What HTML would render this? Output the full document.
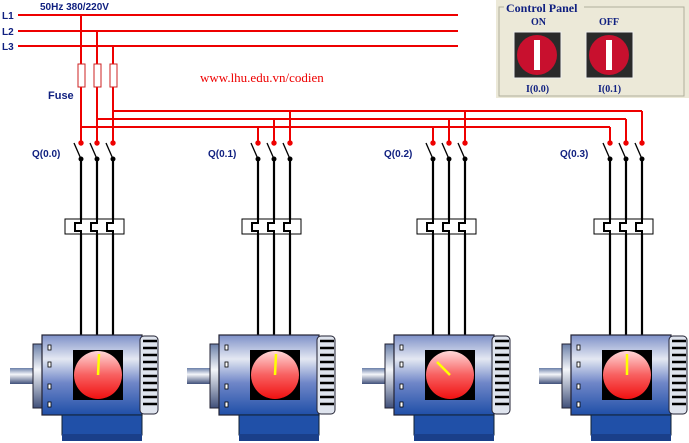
<!DOCTYPE html>
<html><head><style>body{margin:0;background:#fff}svg{display:block}</style></head><body>
<svg width="689" height="443" viewBox="0 0 689 443" xmlns="http://www.w3.org/2000/svg" font-family="Liberation Sans, sans-serif">
<defs>
<linearGradient id="body" x1="0" y1="0" x2="0" y2="1">
<stop offset="0" stop-color="#7d90c8"/><stop offset="0.3" stop-color="#e4e8f2"/><stop offset="0.6" stop-color="#6f86c8"/><stop offset="1" stop-color="#1f4fa8"/></linearGradient>
<linearGradient id="red" x1="0" y1="0" x2="0" y2="1"><stop offset="0" stop-color="#ffd8d8"/><stop offset="0.5" stop-color="#f86060"/><stop offset="1" stop-color="#f01010"/></linearGradient>
<linearGradient id="shaft" x1="0" y1="0" x2="0" y2="1"><stop offset="0" stop-color="#6a7fa8"/><stop offset="0.4" stop-color="#f4f6fa"/><stop offset="1" stop-color="#40507a"/></linearGradient>
<g id="grp">
<g stroke="#000" stroke-width="2.2" fill="none">
<line x1="0" y1="159" x2="0" y2="336"/><line x1="16" y1="159" x2="16" y2="336"/><line x1="32" y1="159" x2="32" y2="336"/>
<line x1="-7" y1="143" x2="0" y2="159" stroke-width="1.3"/><line x1="9" y1="143" x2="16" y2="159" stroke-width="1.3"/><line x1="25" y1="143" x2="32" y2="159" stroke-width="1.3"/>
</g>
<g fill="#000"><circle cx="0" cy="159" r="2.5"/><circle cx="16" cy="159" r="2.5"/><circle cx="32" cy="159" r="2.5"/></g>
<g fill="#e00"><circle cx="0" cy="143" r="2.7"/><circle cx="16" cy="143" r="2.7"/><circle cx="32" cy="143" r="2.7"/></g>
<rect x="-16" y="219" width="59" height="15" fill="#fff" stroke="#000" stroke-width="1"/>
<g stroke="#000" stroke-width="2" fill="none">
<path d="M0 219v4h-6v8h6v4"/><path d="M16 219v4h-6v8h6v4"/><path d="M32 219v4h-6v8h6v4"/></g>
</g>
<g id="motor">
<rect x="10" y="368" width="28" height="16" fill="url(#shaft)"/>
<rect x="33" y="344" width="10" height="64" fill="url(#shaft)" stroke="#223" stroke-width="1"/>
<rect x="42" y="335" width="100" height="80" fill="url(#body)" stroke="#223" stroke-width="1.2"/>
<g fill="#fff" stroke="#000" stroke-width="0.8"><rect x="48" y="345" width="3" height="5"/><rect x="48" y="362" width="3" height="5"/><rect x="48" y="384" width="3" height="5"/><rect x="48" y="402" width="3" height="5"/></g>
<rect x="140" y="336" width="18" height="78" rx="4" fill="#dfe4ee" stroke="#223"/>
<g stroke="#000" stroke-width="2.5"><line x1="143" y1="341" x2="157" y2="341"/><line x1="143" y1="348" x2="157" y2="348"/><line x1="143" y1="355" x2="157" y2="355"/><line x1="143" y1="362" x2="157" y2="362"/><line x1="143" y1="369" x2="157" y2="369"/><line x1="143" y1="376" x2="157" y2="376"/><line x1="143" y1="383" x2="157" y2="383"/><line x1="143" y1="390" x2="157" y2="390"/><line x1="143" y1="397" x2="157" y2="397"/><line x1="143" y1="404" x2="157" y2="404"/></g>
<rect x="73" y="350" width="50" height="50" fill="#000"/>
<circle cx="98" cy="375" r="24" fill="url(#red)"/>
<path d="M62 415h80v20h-80z" fill="#2050a8" stroke="#123" stroke-width="1"/>
<rect x="62" y="434" width="80" height="7" fill="#1a3f8a"/>
</g>
</defs>
<!-- buses -->
<g stroke="#e00" stroke-width="2" fill="none">
<line x1="18" y1="15" x2="458" y2="15"/><line x1="18" y1="31" x2="458" y2="31"/><line x1="18" y1="46" x2="458" y2="46"/>
<line x1="81" y1="15" x2="81" y2="143"/><line x1="97" y1="31" x2="97" y2="143"/><line x1="113" y1="46" x2="113" y2="143"/>
<line x1="113" y1="111" x2="642" y2="111"/><line x1="97" y1="119" x2="626" y2="119"/><line x1="81" y1="127" x2="610" y2="127"/>
<line x1="258" y1="127" x2="258" y2="143"/><line x1="274" y1="119" x2="274" y2="143"/><line x1="290" y1="111" x2="290" y2="143"/>
<line x1="433" y1="127" x2="433" y2="143"/><line x1="449" y1="119" x2="449" y2="143"/><line x1="465" y1="111" x2="465" y2="143"/>
<line x1="610" y1="127" x2="610" y2="143"/><line x1="626" y1="119" x2="626" y2="143"/><line x1="642" y1="111" x2="642" y2="143"/>
</g>
<g fill="#fff" stroke="#c22" stroke-width="1"><rect x="78" y="64" width="7" height="23"/><rect x="94" y="64" width="7" height="23"/><rect x="110" y="64" width="7" height="23"/></g>
<g font-size="10" font-weight="bold" fill="#102080">
<text x="2" y="19">L1</text><text x="2" y="35">L2</text><text x="2" y="50">L3</text>
<text x="40" y="10">50Hz 380/220V</text>
<text x="48" y="99" font-size="11">Fuse</text>
<text x="32" y="157">Q(0.0)</text><text x="208" y="157">Q(0.1)</text><text x="384" y="157">Q(0.2)</text><text x="560" y="157">Q(0.3)</text>
</g>
<text x="200" y="82" font-family="Liberation Serif, serif" font-size="13" fill="#e00">www.lhu.edu.vn/codien</text>
<use href="#grp" x="81"/><use href="#grp" x="258"/><use href="#grp" x="433"/><use href="#grp" x="610"/>
<use href="#motor" x="0"/><use href="#motor" x="177"/><use href="#motor" x="352"/><use href="#motor" x="529"/>
<g stroke="#ff0" stroke-width="2.5"><line x1="98" y1="375" x2="99" y2="354"/><line x1="275" y1="375" x2="276" y2="354"/><line x1="450" y1="375" x2="437" y2="362"/><line x1="627" y1="375" x2="627" y2="354"/></g>
<!-- control panel -->
<rect x="496" y="0" width="193" height="98" fill="#ece9d8"/>
<rect x="499" y="7" width="185" height="89" fill="none" stroke="#b0ae9c" stroke-width="1"/>
<rect x="504" y="0" width="80" height="14" fill="#ece9d8"/>
<text x="506" y="12" font-family="Liberation Serif, serif" font-weight="bold" font-size="12" fill="#102080">Control Panel</text>
<g font-family="Liberation Serif, serif" font-weight="bold" font-size="10" fill="#102080">
<text x="531" y="25">ON</text><text x="599" y="25">OFF</text><text x="526" y="92">I(0.0)</text><text x="598" y="92">I(0.1)</text></g>
<g>
<rect x="514" y="32" width="47" height="46" fill="#2a2a2a" stroke="#eee" stroke-width="1"/>
<circle cx="537" cy="55" r="20" fill="#c8102e"/><rect x="534" y="40" width="6" height="30" fill="#fff"/>
<rect x="586" y="32" width="47" height="46" fill="#2a2a2a" stroke="#eee" stroke-width="1"/>
<circle cx="609" cy="55" r="20" fill="#c8102e"/><rect x="606" y="40" width="6" height="30" fill="#fff"/>
</g>
</svg>
</body></html>
